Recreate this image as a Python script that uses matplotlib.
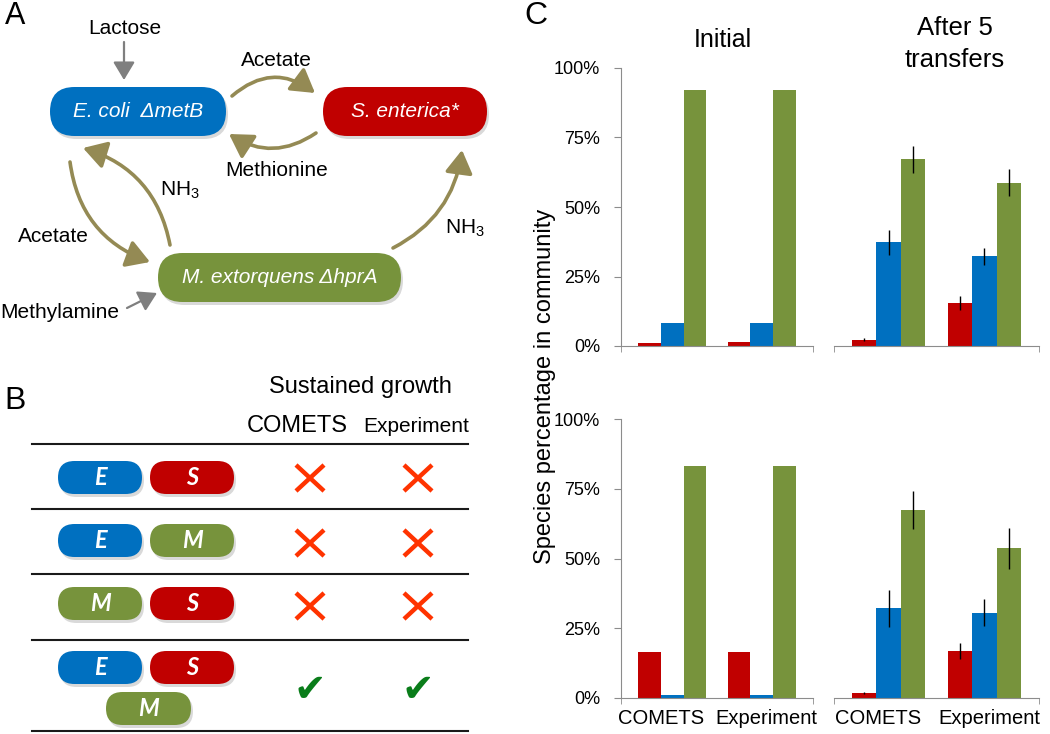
import matplotlib
matplotlib.use("Agg")
import matplotlib.pyplot as plt
import matplotlib.transforms as mtrans
from matplotlib.patches import FancyBboxPatch, FancyArrowPatch

plt.rcParams['font.family'] = ['Liberation Sans', 'DejaVu Sans']

# panel C data (percent of community)
groups = ["COMETS", "Experiment"]

init_top_s = [1.2, 1.6]
init_top_e = [8.2, 8.2]
init_top_m = [92.2, 92.2]

after_top_s = [2.2, 15.4]
after_top_s_err = [0.5, 2.6]
after_top_e = [37.3, 32.2]
after_top_e_err = [4.5, 3.0]
after_top_m = [67.1, 58.8]
after_top_m_err = [4.7, 4.8]

init_bot_s = [16.4, 16.4]
init_bot_e = [1.1, 1.1]
init_bot_m = [83.0, 83.0]

after_bot_s = [1.9, 16.7]
after_bot_s_err = [0.4, 2.9]
after_bot_e = [32.1, 30.6]
after_bot_e_err = [6.5, 4.9]
after_bot_m = [67.3, 53.7]
after_bot_m_err = [6.8, 7.4]

yticks = [0, 25, 50, 75, 100]
ytick_labels = ["0%", "25%", "50%", "75%", "100%"]

# panel B data
pairs = [["E", "S"], ["E", "M"], ["M", "S"], ["E", "S", "M"]]
comets_growth = [False, False, False, True]
exp_growth = [False, False, False, True]

RED = '#c00000'
BLUE = '#0070c0'
GREEN = '#77933c'
OLIVE = '#948a54'
col = {"E": BLUE, "S": RED, "M": GREEN}

W, H = 1050, 734
fig = plt.figure(figsize=(10.5, 7.34), dpi=100)
ax0 = fig.add_axes([0, 0, 1, 1])
ax0.set_xlim(0, W)
ax0.set_ylim(H, 0)
ax0.axis('off')


def pill(x0, y0, x1, y1, color, text, size=15, family='Liberation Sans', weight='normal'):
    h = y1 - y0
    sh = FancyBboxPatch((x0 + 2, y0 + 3), x1 - x0, h, boxstyle="round,pad=0,rounding_size=%f" % (h / 2),
                        fc='black', ec='none', alpha=0.15)
    ax0.add_patch(sh)
    p = FancyBboxPatch((x0, y0), x1 - x0, h, boxstyle="round,pad=0,rounding_size=%f" % (h / 2),
                       fc=color, ec='none')
    ax0.add_patch(p)
    ax0.text((x0 + x1) / 2, (y0 + y1) / 2, text, color='white', fontsize=size, style='italic',
             family=family, weight=weight, ha='center', va='center')


def arrow(p0, p1, rad, color=OLIVE, lw=2.6, ms=14):
    a = FancyArrowPatch(p0, p1, connectionstyle="arc3,rad=%f" % rad,
                        arrowstyle="-|>,head_length=1.0,head_width=0.6", mutation_scale=ms,
                        color=color, lw=lw, shrinkA=0, shrinkB=0)
    ax0.add_patch(a)


# ---- panel A ----
ax0.text(15, 16, "A", fontsize=22, ha='center', va='center')
pill(50, 87, 226, 136, BLUE, "E. coli  \u0394metB")
pill(323, 87, 487, 136, RED, "S. enterica*")
pill(158, 253, 401, 302, GREEN, "M. extorquens \u0394hprA")

ax0.text(125, 28, "Lactose", fontsize=15, ha='center', va='center')
arrow((124, 42), (124, 80), 0, color='#7f7f7f', lw=1.6, ms=11)
ax0.text(60, 312, "Methylamine", fontsize=15, ha='center', va='center')
arrow((127, 308), (157, 293), 0, color='#7f7f7f', lw=1.6, ms=11)

arrow((232, 96), (315, 93), -0.4)
ax0.text(276, 60, "Acetate", fontsize=15, ha='center', va='center')
arrow((316, 133), (229, 134), -0.33)
ax0.text(277, 170, "Methionine", fontsize=15, ha='center', va='center')
arrow((170, 245), (83, 148), 0.3)
ax0.text(180, 190, "NH$_\\mathregular{3}$", fontsize=15, ha='center', va='center')
arrow((70, 162), (150, 262), 0.3)
ax0.text(53, 237, "Acetate", fontsize=15, ha='center', va='center')
arrow((393, 248), (462, 150), 0.26)
ax0.text(465, 228, "NH$_\\mathregular{3}$", fontsize=15, ha='center', va='center')

# ---- panel B ----
ax0.text(15, 401, "B", fontsize=23, ha='center', va='center')
ax0.text(360, 387, "Sustained growth", fontsize=17, ha='center', va='center')
ax0.text(297, 426, "COMETS", fontsize=17, ha='center', va='center')
ax0.text(416, 426, "Experiment", fontsize=15, ha='center', va='center')
for y in [444, 509, 574, 640, 731]:
    ax0.plot([32, 468], [y, y], color='#1a1a1a', lw=1.5)

row_y = [461, 524, 587, 651]
row_mid = [478, 543, 606, 690]
for i, combo in enumerate(pairs):
    y0 = row_y[i]
    pill(58, y0, 142, y0 + 33, col[combo[0]], combo[0], size=17, family='Lato', weight='bold')
    pill(150, y0, 234, y0 + 33, col[combo[1]], combo[1], size=17, family='Lato', weight='bold')
    if len(combo) > 2:
        pill(106, 692, 191, 725, col[combo[2]], combo[2], size=17, family='Lato', weight='bold')
    for cx, ok in [(310, comets_growth[i]), (418, exp_growth[i])]:
        cy = row_mid[i]
        if ok:
            ax0.text(cx, cy, "\u2714", fontsize=28, color='#0a7d1a', family='DejaVu Sans',
                     ha='center', va='center')
        else:
            ax0.plot([cx - 14, cx + 14], [cy - 13, cy + 13], color='#ff3300', lw=3.2, solid_capstyle='butt')
            ax0.plot([cx - 14, cx + 14], [cy + 13, cy - 13], color='#ff3300', lw=3.2, solid_capstyle='butt')

# ---- panel C ----
ax0.text(536, 16, "C", fontsize=23, ha='center', va='center')
ax0.text(723, 40, "Initial", fontsize=18, ha='center', va='center')
ax0.text(955, 44, "After 5\ntransfers", fontsize=18.5, ha='center', va='center',
         linespacing=1.4)
ax0.text(545, 386, "Species percentage in community", fontsize=17, rotation=90,
         ha='center', va='center')

label_shift = [-11, 5]


def bar_panel(px, s, e, m, se=None, ee=None, me=None, show_y=False, show_x=False):
    x0, y0, x1, y1 = px
    ax = fig.add_axes([x0 / W, 1 - y1 / H, (x1 - x0) / W, (y1 - y0) / H])
    xs = range(len(groups))
    w = 0.255
    ekw = dict(ecolor='black', elinewidth=1.0, capsize=0)
    ax.bar([x - w for x in xs], s, w, color=RED, yerr=se, error_kw=ekw)
    ax.bar(list(xs), e, w, color=BLUE, yerr=ee, error_kw=ekw)
    ax.bar([x + w for x in xs], m, w, color=GREEN, yerr=me, error_kw=ekw)
    ax.set_xlim(-0.57, 1.57)
    ax.set_ylim(0, 100)
    ax.patch.set_alpha(0)
    for sp in ['top', 'right']:
        ax.spines[sp].set_visible(False)
    ax.spines['bottom'].set_color('#8c8c8c')
    ax.spines['left'].set_color('#8c8c8c')
    ax.set_xticks(list(xs))
    ax.set_xticks([-0.57, 1.57], minor=True)
    ax.tick_params(axis='x', which='major', length=0, pad=8)
    ax.tick_params(axis='x', which='minor', length=4, color='#8c8c8c')
    if show_x:
        ax.set_xticklabels(groups, fontsize=14.5)
        for lab, dx in zip(ax.get_xticklabels(), label_shift):
            lab.set_transform(lab.get_transform() + mtrans.ScaledTranslation(dx / 100, 0, fig.dpi_scale_trans))
    else:
        ax.set_xticklabels([])
    if show_y:
        ax.set_yticks(yticks)
        ax.set_yticklabels(ytick_labels, fontsize=13)
        ax.tick_params(axis='y', length=5, color='#8c8c8c', pad=10)
    else:
        ax.spines['left'].set_visible(False)
        ax.set_yticks([])
    return ax


bar_panel((621, 68, 813, 346), init_top_s, init_top_e, init_top_m, show_y=True)
bar_panel((834, 68, 1039, 346), after_top_s, after_top_e, after_top_m,
          after_top_s_err, after_top_e_err, after_top_m_err)
bar_panel((621, 419, 813, 698), init_bot_s, init_bot_e, init_bot_m, show_y=True, show_x=True)
bar_panel((834, 419, 1039, 698), after_bot_s, after_bot_e, after_bot_m,
          after_bot_s_err, after_bot_e_err, after_bot_m_err, show_x=True)

fig.savefig("out.png", dpi=100)
